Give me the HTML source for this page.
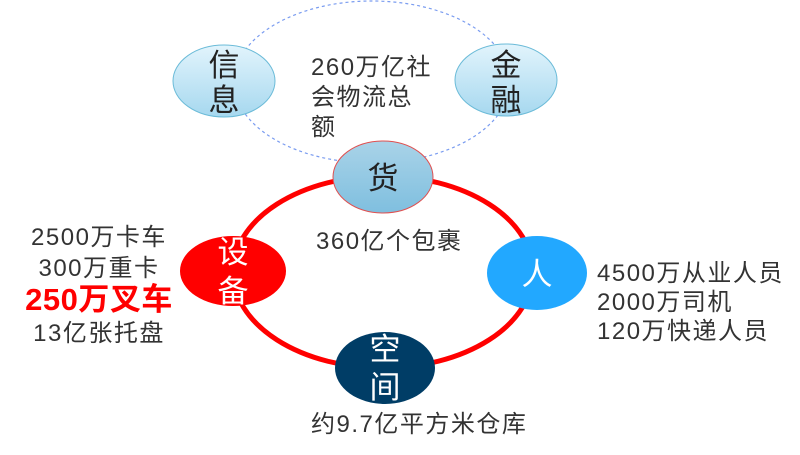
<!DOCTYPE html>
<html><head><meta charset="utf-8"><style>
body{margin:0;width:800px;height:455px;background:#fff;overflow:hidden;position:relative;font-family:"Liberation Sans","Noto Sans CJK SC",sans-serif;}
.t{position:absolute;color:#333;font-size:24px;letter-spacing:1.5px;line-height:30px;white-space:nowrap}
svg{position:absolute;left:0;top:0}
</style></head><body>
<svg width="800" height="455">
<defs>
<linearGradient id="lb" x1="0" y1="0" x2="0" y2="1"><stop offset="0" stop-color="#e2f4fc"/><stop offset="1" stop-color="#a6d8ef"/></linearGradient>
<linearGradient id="hb" x1="0" y1="0" x2="0" y2="1"><stop offset="0" stop-color="#a9d3e8"/><stop offset="1" stop-color="#7fbfdf"/></linearGradient>
</defs>
<ellipse cx="372" cy="82" rx="138" ry="81" fill="none" stroke="#7a9cf0" stroke-width="1.2" stroke-dasharray="3,3"/>
<ellipse cx="383" cy="272" rx="150" ry="96" fill="none" stroke="#ff0000" stroke-width="5"/>
<ellipse cx="224" cy="81" rx="51" ry="36" fill="url(#lb)" stroke="#6bbbd8" stroke-width="1"/>
<ellipse cx="506" cy="80" rx="51" ry="36" fill="url(#lb)" stroke="#6bbbd8" stroke-width="1"/>
<ellipse cx="383" cy="177" rx="50" ry="36" fill="url(#hb)" stroke="#e05050" stroke-width="1"/>
<ellipse cx="233" cy="271" rx="53" ry="35" fill="#ff0000"/>
<ellipse cx="537" cy="273" rx="50" ry="37" fill="#22a8ff"/>
<ellipse cx="385" cy="368" rx="50" ry="36" fill="#003d66"/>
<g font-family="Liberation Sans,Noto Sans CJK SC,sans-serif" font-size="31" text-anchor="middle">
<text x="224" y="76" fill="#222">信</text><text x="224" y="111" fill="#222">息</text>
<text x="506" y="76" fill="#222">金</text><text x="506" y="111" fill="#222">融</text>
<text x="383" y="189" fill="#222">货</text>
<text x="233" y="263" fill="#fff">设</text><text x="233" y="302" fill="#fff">备</text>
<text x="537" y="285" fill="#fff">人</text>
<text x="385" y="360" fill="#fff">空</text><text x="385" y="398" fill="#fff">间</text>
</g>
</svg>
<div class="t" style="left:311px;top:53px;line-height:30px">260万亿社<br>会物流总<br>额</div>
<div class="t" style="left:316px;top:227px">360亿个包裹</div>
<div class="t" style="left:311px;top:410px">约9.7亿平方米仓库</div>
<div class="t" style="left:14px;top:222px;text-align:center;width:170px;line-height:31px">2500万卡车<br>300万重卡<br><span style="color:#ff0000;font-weight:bold;font-size:31px;letter-spacing:0.5px">250万叉车</span><br>13亿张托盘</div>
<div class="t" style="left:597px;top:259px;line-height:29px">4500万从业人员<br>2000万司机<br>120万快递人员</div>
</body></html>
